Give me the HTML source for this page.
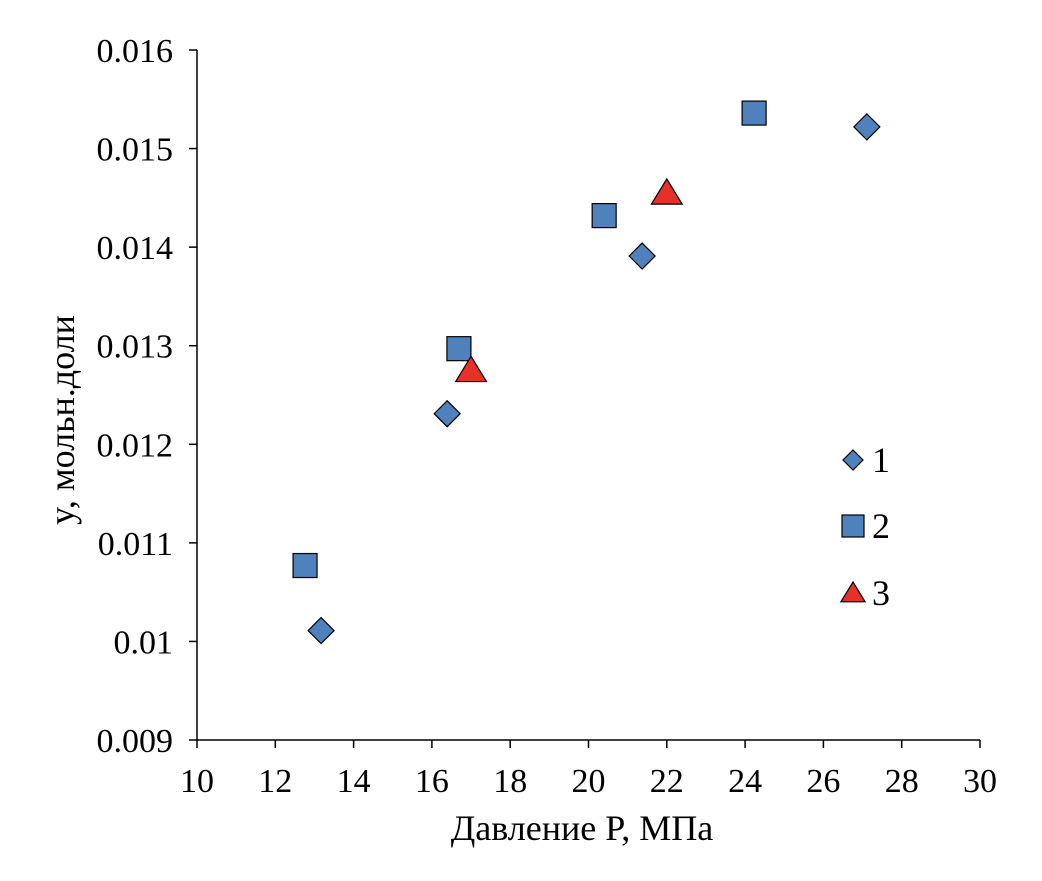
<!DOCTYPE html>
<html><head><meta charset="utf-8"><style>
body{margin:0;background:#fff}
svg text{font-family:"Liberation Serif",serif;fill:#000}
</style></head><body>
<svg id="c" width="1042" height="876"></svg>
<script>
const xTicks=[10,12,14,16,18,20,22,24,26,28,30];
const yTicks=[0.009,0.010,0.011,0.012,0.013,0.014,0.015,0.016];
const yTickLabels=["0.009","0.01","0.011","0.012","0.013","0.014","0.015","0.016"];
const s1x=[13.17,16.39,21.37,27.11];
const s1y=[0.01011,0.01231,0.01391,0.01522];
const s2x=[12.76,16.69,20.40,24.23];
const s2y=[0.01077,0.01297,0.01432,0.01536];
const s3x=[17.0,22.0];
const s3y=[0.01275,0.01455];
const legendLabels=["1","2","3"];

const NS="http://www.w3.org/2000/svg";
const svg=document.getElementById('c');
const X=v=>197+(v-10)*(980-197)/20;
const Y=v=>740-(v-0.009)*(740-50)/0.007;
function mk(t,a,p){const e=document.createElementNS(NS,t);for(const k in a)e.setAttribute(k,a[k]);(p||svg).appendChild(e);return e;}

let ax=mk('g',{});


mk('line',{x1:197,y1:50,x2:197,y2:740,stroke:'#000','stroke-width':1.5},ax);
mk('line',{x1:197,y1:740,x2:980,y2:740,stroke:'#000','stroke-width':1.5},ax);
xTicks.forEach(v=>{
  mk('line',{x1:X(v),y1:740,x2:X(v),y2:748,stroke:'#000','stroke-width':1.5},ax);
  const t=mk('text',{x:X(v),y:792,'text-anchor':'middle','font-size':34},ax);t.textContent=v;
  
  
});
yTicks.forEach((v,i)=>{
  mk('line',{x1:189,y1:Y(v),x2:197,y2:Y(v),stroke:'#000','stroke-width':1.5},ax);
  const t=mk('text',{x:173,y:Y(v)+12,'text-anchor':'end','font-size':34},ax);t.textContent=yTickLabels[i];
  
  
});
let xt=mk('text',{x:582,y:840,'text-anchor':'middle','font-size':36});xt.textContent='Давление P, МПа';


let yt=mk('text',{x:0,y:0,'text-anchor':'middle','font-size':36,transform:'translate(74,420) rotate(-90)'});yt.textContent='y, мольн.доли';



function diamond(cx,cy,r,p){return mk('polygon',{points:`${cx},${cy-r} ${cx+r},${cy} ${cx},${cy+r} ${cx-r},${cy}`,fill:'#4f81bd',stroke:'#000','stroke-width':1.2},p);}
function square(cx,cy,r,p){return mk('rect',{x:cx-r,y:cy-r,width:2*r,height:2*r,fill:'#4f81bd',stroke:'#000','stroke-width':1.2},p);}
function tri(cx,cy,r,p){return mk('polygon',{points:`${cx},${cy-r} ${cx+r*1.1},${cy+r*0.8} ${cx-r*1.1},${cy+r*0.8}`,fill:'#e8302a',stroke:'#000','stroke-width':1.2},p);}

s1x.forEach((v,i)=>{const e=diamond(X(v),Y(s1y[i]),13);
  
  });
s2x.forEach((v,i)=>{const e=square(X(v),Y(s2y[i]),12);
  
  });
s3x.forEach((v,i)=>{const e=tri(X(v),Y(s3y[i]),14);
  
  });

const lg=mk('g',{});


const ly=[460,526,593];
[diamond,square,tri].forEach((f,i)=>{
  f(853,ly[i],i==0?10:11,lg);
  const t=mk('text',{x:872,y:ly[i]+12,'font-size':36},lg);t.textContent=legendLabels[i];
  
  
});
</script>
</body></html>
